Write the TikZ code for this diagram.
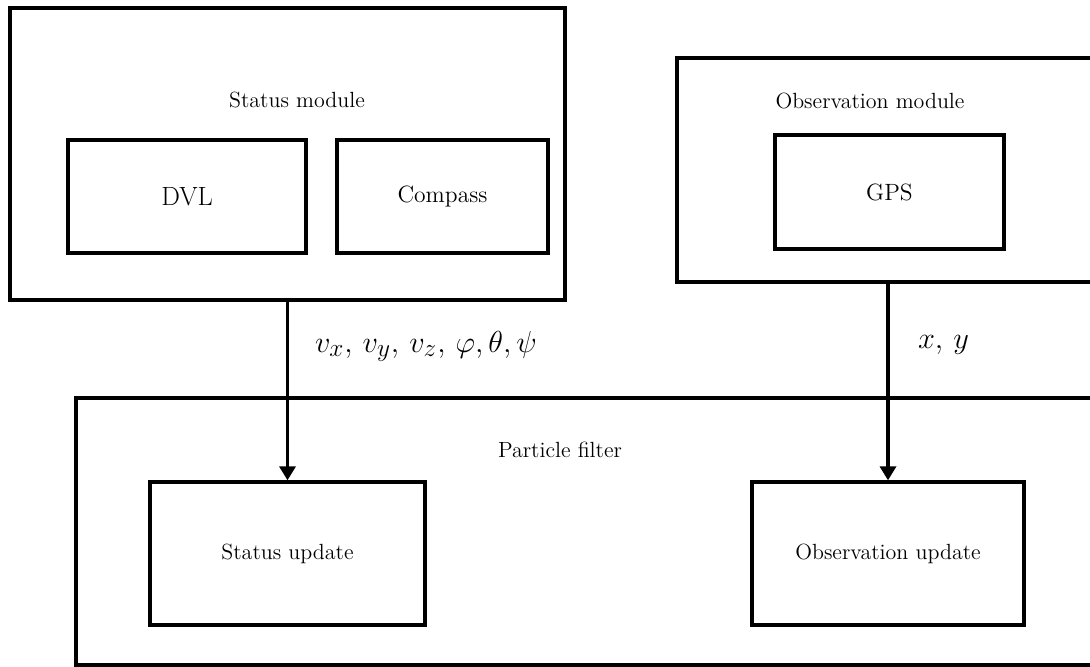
\documentclass[tikz,border=0pt]{standalone}
\usepackage{amsmath}
\usepackage{amssymb}
\usepackage{tikz}
\usetikzlibrary{arrows.meta}

\begin{document}
\begin{tikzpicture}[box/.style={draw,line width=1.9pt,inner sep=0pt},
	txt/.style={font=\fontsize{12.5}{15}\selectfont},
	flow/.style={-{Triangle[length=0.28cm,width=0.32cm]},line width=1.9pt}]
		\useasboundingbox (0,0) rectangle (21.8,-13.34);
		\clip (0,0) rectangle (21.8,-13.34);
		\draw[color=black]
		node[box,minimum width=11.1cm,minimum height=5.84cm] (status) at (5.75,-3.08){}
		node[txt] (status_title) at (5.94,-2.0){Status module}
		node[box,minimum width=4.76cm,minimum height=2.26cm,font=\fontsize{15}{18}\selectfont] (status_dvl) at (3.74,-3.93){DVL}
		node[box,minimum width=4.22cm,minimum height=2.26cm,font=\fontsize{13.4}{16}\selectfont] (status_compass) at (8.85,-3.93){Compass}
		node[box,minimum width=8.44cm,minimum height=4.48cm] (obs) at (17.76,-3.4){}
		node[txt] (obs_title) at (17.4,-2.02){Observation module}
		node[box,minimum width=4.58cm,minimum height=2.28cm,font=\fontsize{13.4}{16}\selectfont] (obs_gps) at (17.79,-3.84){GPS}
		node[box,minimum width=20.68cm,minimum height=5.34cm] (filter) at (11.86,-10.63){}
		node[txt] (filter_title) at (11.2,-9.0){Particle filter}
		node[box,minimum width=5.5cm,minimum height=2.86cm,txt] (filter_status) at (5.75,-11.07){Status update}
		node[box,minimum width=5.44cm,minimum height=2.86cm,txt] (filter_obs) at (17.76,-11.07){Observation update};
		\draw [flow] (status) -- (filter_status)
			node[pos=0.25,anchor=west,xshift=0.4cm,font=\fontsize{19}{22}\selectfont] (status_vars) {$v_x,\,v_y,\,v_z,\,\varphi,\theta,\psi$};
		\draw [flow] (obs) -- (filter_obs)
			node[pos=0.31,anchor=west,xshift=0.45cm,font=\fontsize{19}{22}\selectfont] (obs_vars) {$x,\,y$};
		\end{tikzpicture}
\end{document}
